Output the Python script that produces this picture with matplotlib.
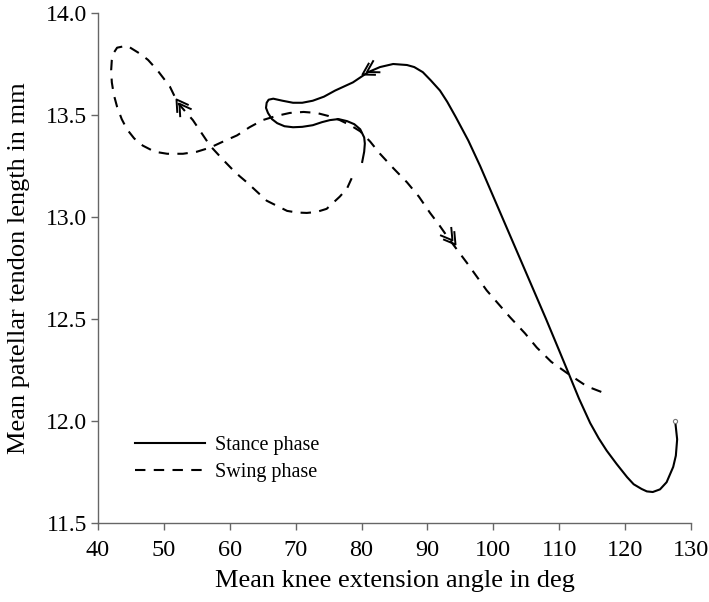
import numpy as np
import matplotlib
matplotlib.use("Agg")
import matplotlib.pyplot as plt
from matplotlib.path import Path
from matplotlib.markers import MarkerStyle

plt.rcParams['font.family'] = ['Liberation Serif', 'DejaVu Serif']

# stance phase (solid), traced from the open circle at the right
stance_x = [127.6, 127.9, 127.7, 127.3, 126.3, 125.3, 124.2, 123.3, 122.5, 121.3,
            120.3, 118.7, 117.2, 116.0, 114.7, 113.0, 111.6, 110.0, 108.0, 106.0,
            104.0, 102.0, 100.0, 98.0, 96.2, 94.3, 93.0, 91.9, 90.5, 89.3,
            88.0, 86.9, 84.8, 82.8, 81.0, 78.7, 76.0, 74.3, 72.6, 71.0,
            69.6, 68.0, 66.6, 65.9, 65.6, 65.5, 65.8, 66.4, 67.2, 68.3,
            69.6, 71.0, 72.6, 74.0, 75.2, 76.5, 77.8, 78.9, 79.8, 80.4,
            80.5, 80.4, 80.1]
stance_y = [12.00, 11.91, 11.83, 11.775, 11.70, 11.665, 11.652, 11.655, 11.667, 11.69,
            11.725, 11.79, 11.855, 11.915, 11.99, 12.11, 12.22, 12.345, 12.50, 12.65,
            12.80, 12.95, 13.10, 13.25, 13.375, 13.49, 13.565, 13.62, 13.67, 13.71,
            13.735, 13.745, 13.75, 13.735, 13.71, 13.66, 13.62, 13.59, 13.57, 13.56,
            13.56, 13.57, 13.58, 13.575, 13.56, 13.535, 13.51, 13.48, 13.46, 13.445,
            13.44, 13.442, 13.45, 13.465, 13.475, 13.48, 13.47, 13.455, 13.43, 13.39,
            13.36, 13.32, 13.27]

# swing phase (dashed)
swing_x = [78.5, 77.8, 76.7, 74.7, 73.2, 71.7, 70.2, 68.7, 65.6, 62.6,
           61.5, 60.5, 59.0, 57.0, 54.4, 52.1, 50.9, 49.0, 47.6, 46.4,
           44.4, 42.9, 42.3, 42.1, 42.0, 42.1, 42.4, 42.9, 43.6, 44.4,
           45.5, 46.8, 48.6, 50.5, 52.9, 55.0, 57.0, 59.0, 61.1, 63.0,
           65.0, 67.0, 69.1, 71.2, 73.2, 75.0, 76.7, 78.3, 79.8, 81.3,
           82.8, 84.8, 86.9, 88.7, 90.4, 91.8, 93.1, 96.0, 99.0, 102.5,
           104.8, 106.6, 108.8, 111.2, 114.2, 116.6]
swing_y = [13.19, 13.14, 13.10, 13.04, 13.025, 13.02, 13.022, 13.03, 13.08, 13.17,
           13.20, 13.23, 13.28, 13.35, 13.475, 13.56, 13.64, 13.72, 13.77, 13.80,
           13.84, 13.83, 13.80, 13.77, 13.72, 13.66, 13.60, 13.54, 13.48, 13.43,
           13.385, 13.35, 13.32, 13.31, 13.31, 13.32, 13.34, 13.37, 13.40, 13.44,
           13.475, 13.495, 13.51, 13.515, 13.51, 13.495, 13.475, 13.45, 13.42, 13.37,
           13.31, 13.24, 13.17, 13.10, 13.02, 12.96, 12.90, 12.775, 12.64, 12.51,
           12.43, 12.36, 12.29, 12.235, 12.17, 12.14]

# direction arrows (tip positions)
stance_arrow_x = [80.1]
stance_arrow_y = [13.70]
swing_arrow_x = [51.8, 94.2]
swing_arrow_y = [13.58, 12.87]

xticks = [40, 50, 60, 70, 80, 90, 100, 110, 120, 130]
yticks = [11.5, 12.0, 12.5, 13.0, 13.5, 14.0]

fig = plt.figure(figsize=(7.09, 6.02), dpi=100)
ax = fig.add_axes([0.1382, 0.1312, 0.8364, 0.8472])
ax.set_xlim(40, 130)
ax.set_ylim(11.5, 14.0)

ax.plot(stance_x, stance_y, color='black', lw=1.5, label='Stance phase')
ax.plot(swing_x, swing_y, color='black', lw=1.5, ls=(0, (5, 4)), label='Swing phase')
ax.plot(stance_x[:1], stance_y[:1], 'o', ms=3, mfc='white', mec='#777777', mew=0.8)

# double chevron marker, tip at origin pointing to +x
verts = [(-1, 0.6), (0, 0), (-1, -0.6), (-1.45, 0.6), (-0.45, 0), (-1.45, -0.6)]
codes = [Path.MOVETO, Path.LINETO, Path.LINETO, Path.MOVETO, Path.LINETO, Path.LINETO]
chevron = Path(verts, codes)


def draw_arrows(px, py, sx, sy):
    pts = ax.transData.transform(np.column_stack([sx, sy]))
    for x, y in zip(px, py):
        tip = ax.transData.transform((x, y))
        i = int(np.argmin(np.hypot(pts[:, 0] - tip[0], pts[:, 1] - tip[1])))
        i = max(i, 1)
        d = pts[min(i + 1, len(pts) - 1)] - pts[i - 1]
        ang = np.degrees(np.arctan2(d[1], d[0]))
        m = MarkerStyle(chevron).rotated(deg=ang)
        ax.plot([x], [y], marker=m, ms=24, mfc='none', mec='black', mew=1.4, ls='none')


draw_arrows(stance_arrow_x, stance_arrow_y, stance_x, stance_y)
draw_arrows(swing_arrow_x, swing_arrow_y, swing_x, swing_y)

ax.set_xticks(xticks)
ax.set_yticks(yticks)
ax.set_yticklabels([f'{v:.1f}' for v in yticks])
for s in ['top', 'right']:
    ax.spines[s].set_visible(False)
for s in ['left', 'bottom']:
    ax.spines[s].set_color('#666666')
    ax.spines[s].set_linewidth(1.0)
ax.tick_params(direction='out', length=5, width=1.0, color='#666666',
               labelsize=17, pad=3)
ax.tick_params(axis='x', pad=7, labelsize=17.5)

ax.set_xlabel('Mean knee extension angle in deg', fontsize=19, labelpad=7)
ax.set_ylabel('Mean patellar tendon length in mm', fontsize=19, labelpad=11)

ax.legend(loc='lower left', bbox_to_anchor=(0.062, 0.08), frameon=False,
          fontsize=14.5, handlelength=3.5, handletextpad=0.5, labelspacing=0.4,
          borderpad=0, borderaxespad=0)

fig.savefig('out.png', dpi=100)
